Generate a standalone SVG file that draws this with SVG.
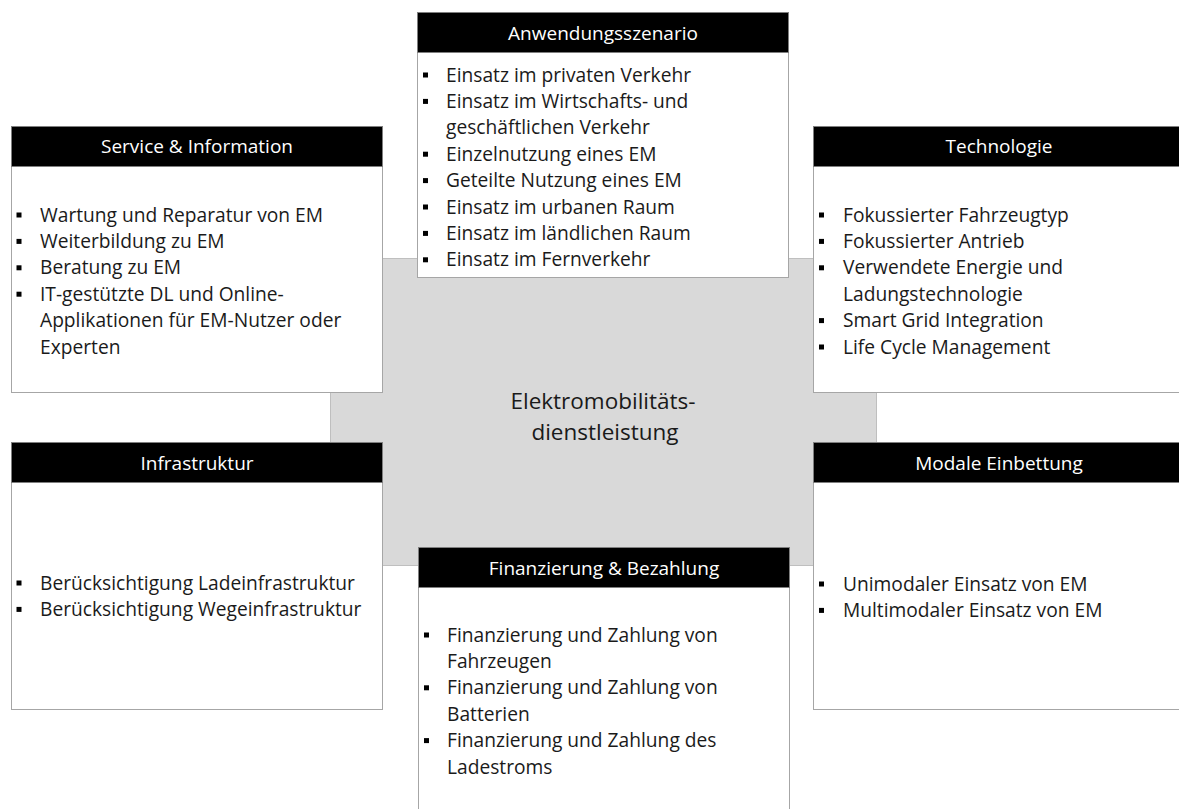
<svg xmlns="http://www.w3.org/2000/svg" width="1179" height="809" viewBox="0 0 1179 809">
<style>
.box{fill:#ffffff;stroke:#a6a6a6;stroke-width:1}
.hdr{fill:#000000;stroke:#7f7f7f;stroke-width:1}
.ht{font-family:"Open Sans","Liberation Sans",sans-serif;font-size:19px;fill:#ffffff;text-anchor:middle}
.bt{font-family:"Open Sans","Liberation Sans",sans-serif;font-size:19.2px;fill:#1a1a1a}
.ct{font-family:"Open Sans","Liberation Sans",sans-serif;font-size:22.5px;fill:#1a1a1a;text-anchor:middle}
.bl{fill:#000000}
</style>
<rect width="1179" height="809" fill="#ffffff"/>
<g id="center">
<rect x="330.5" y="258.5" width="546" height="307" fill="#d9d9d9" stroke="#bfbfbf"/>
<text class="ct" x="603" y="409">Elektromobilitäts-</text>
<text class="ct" x="605" y="440">dienstleistung</text>
</g>
<g id="connectors"></g>
<g id="service">
<rect class="box" x="11.5" y="126.5" width="371" height="266"/>
<rect class="hdr" x="11.5" y="126.5" width="371" height="40"/>
<text class="ht" x="197" y="153">Service &amp; Information</text>
<rect class="bl" x="16.5" y="212.5" width="5" height="5"/>
<rect class="bl" x="16.5" y="238.9" width="5" height="5"/>
<rect class="bl" x="16.5" y="265.3" width="5" height="5"/>
<rect class="bl" x="16.5" y="291.7" width="5" height="5"/>
<text class="bt" x="40" y="221.5">Wartung und Reparatur von EM</text>
<text class="bt" x="40" y="247.9">Weiterbildung zu EM</text>
<text class="bt" x="40" y="274.3">Beratung zu EM</text>
<text class="bt" x="40" y="300.7">IT-gestützte DL und Online-</text>
<text class="bt" x="40" y="327.1">Applikationen für EM-Nutzer oder</text>
<text class="bt" x="40" y="353.5">Experten</text>
</g>
<g id="anwendung">
<rect class="box" x="417.5" y="12.5" width="371" height="265"/>
<rect class="hdr" x="417.5" y="12.5" width="371" height="40"/>
<text class="ht" x="603" y="39.5">Anwendungsszenario</text>
<rect class="bl" x="423" y="72.5" width="5" height="5"/>
<rect class="bl" x="423" y="98.9" width="5" height="5"/>
<rect class="bl" x="423" y="151.7" width="5" height="5"/>
<rect class="bl" x="423" y="178.1" width="5" height="5"/>
<rect class="bl" x="423" y="204.5" width="5" height="5"/>
<rect class="bl" x="423" y="230.9" width="5" height="5"/>
<rect class="bl" x="423" y="257.3" width="5" height="5"/>
<text class="bt" x="446" y="81.5">Einsatz im privaten Verkehr</text>
<text class="bt" x="446" y="107.9">Einsatz im Wirtschafts- und</text>
<text class="bt" x="446" y="134.3">geschäftlichen Verkehr</text>
<text class="bt" x="446" y="160.7">Einzelnutzung eines EM</text>
<text class="bt" x="446" y="187.1">Geteilte Nutzung eines EM</text>
<text class="bt" x="446" y="213.5">Einsatz im urbanen Raum</text>
<text class="bt" x="446" y="239.9">Einsatz im ländlichen Raum</text>
<text class="bt" x="446" y="266.3">Einsatz im Fernverkehr</text>
</g>
<g id="technologie">
<rect class="box" x="813.5" y="126.5" width="371" height="266"/>
<rect class="hdr" x="813.5" y="126.5" width="371" height="40"/>
<text class="ht" x="999" y="153">Technologie</text>
<rect class="bl" x="819" y="212.5" width="5" height="5"/>
<rect class="bl" x="819" y="238.9" width="5" height="5"/>
<rect class="bl" x="819" y="265.3" width="5" height="5"/>
<rect class="bl" x="819" y="318.1" width="5" height="5"/>
<rect class="bl" x="819" y="344.5" width="5" height="5"/>
<text class="bt" x="843" y="221.5">Fokussierter Fahrzeugtyp</text>
<text class="bt" x="843" y="247.9">Fokussierter Antrieb</text>
<text class="bt" x="843" y="274.3">Verwendete Energie und</text>
<text class="bt" x="843" y="300.7">Ladungstechnologie</text>
<text class="bt" x="843" y="327.1">Smart Grid Integration</text>
<text class="bt" x="843" y="353.5">Life Cycle Management</text>
</g>
<g id="infrastruktur">
<rect class="box" x="11.5" y="442.5" width="371" height="267"/>
<rect class="hdr" x="11.5" y="442.5" width="371" height="40"/>
<text class="ht" x="197" y="470">Infrastruktur</text>
<rect class="bl" x="16.5" y="580.5" width="5" height="5"/>
<rect class="bl" x="16.5" y="606.9" width="5" height="5"/>
<text class="bt" x="40" y="589.5">Berücksichtigung Ladeinfrastruktur</text>
<text class="bt" x="40" y="615.9">Berücksichtigung Wegeinfrastruktur</text>
</g>
<g id="modale">
<rect class="box" x="813.5" y="442.5" width="371" height="267"/>
<rect class="hdr" x="813.5" y="442.5" width="371" height="40"/>
<text class="ht" x="999" y="470">Modale Einbettung</text>
<rect class="bl" x="819" y="581.5" width="5" height="5"/>
<rect class="bl" x="819" y="607.9" width="5" height="5"/>
<text class="bt" x="843" y="590.5">Unimodaler Einsatz von EM</text>
<text class="bt" x="843" y="616.9">Multimodaler Einsatz von EM</text>
</g>
<g id="finanzierung">
<rect class="box" x="418.5" y="547.5" width="371" height="267"/>
<rect class="hdr" x="418.5" y="547.5" width="371" height="40"/>
<text class="ht" x="604" y="574.5">Finanzierung &amp; Bezahlung</text>
<rect class="bl" x="424" y="632.5" width="5" height="5"/>
<rect class="bl" x="424" y="685.3" width="5" height="5"/>
<rect class="bl" x="424" y="738.1" width="5" height="5"/>
<text class="bt" x="447" y="641.5">Finanzierung und Zahlung von</text>
<text class="bt" x="447" y="667.9">Fahrzeugen</text>
<text class="bt" x="447" y="694.3">Finanzierung und Zahlung von</text>
<text class="bt" x="447" y="720.7">Batterien</text>
<text class="bt" x="447" y="747.1">Finanzierung und Zahlung des</text>
<text class="bt" x="447" y="773.5">Ladestroms</text>
</g>
</svg>
